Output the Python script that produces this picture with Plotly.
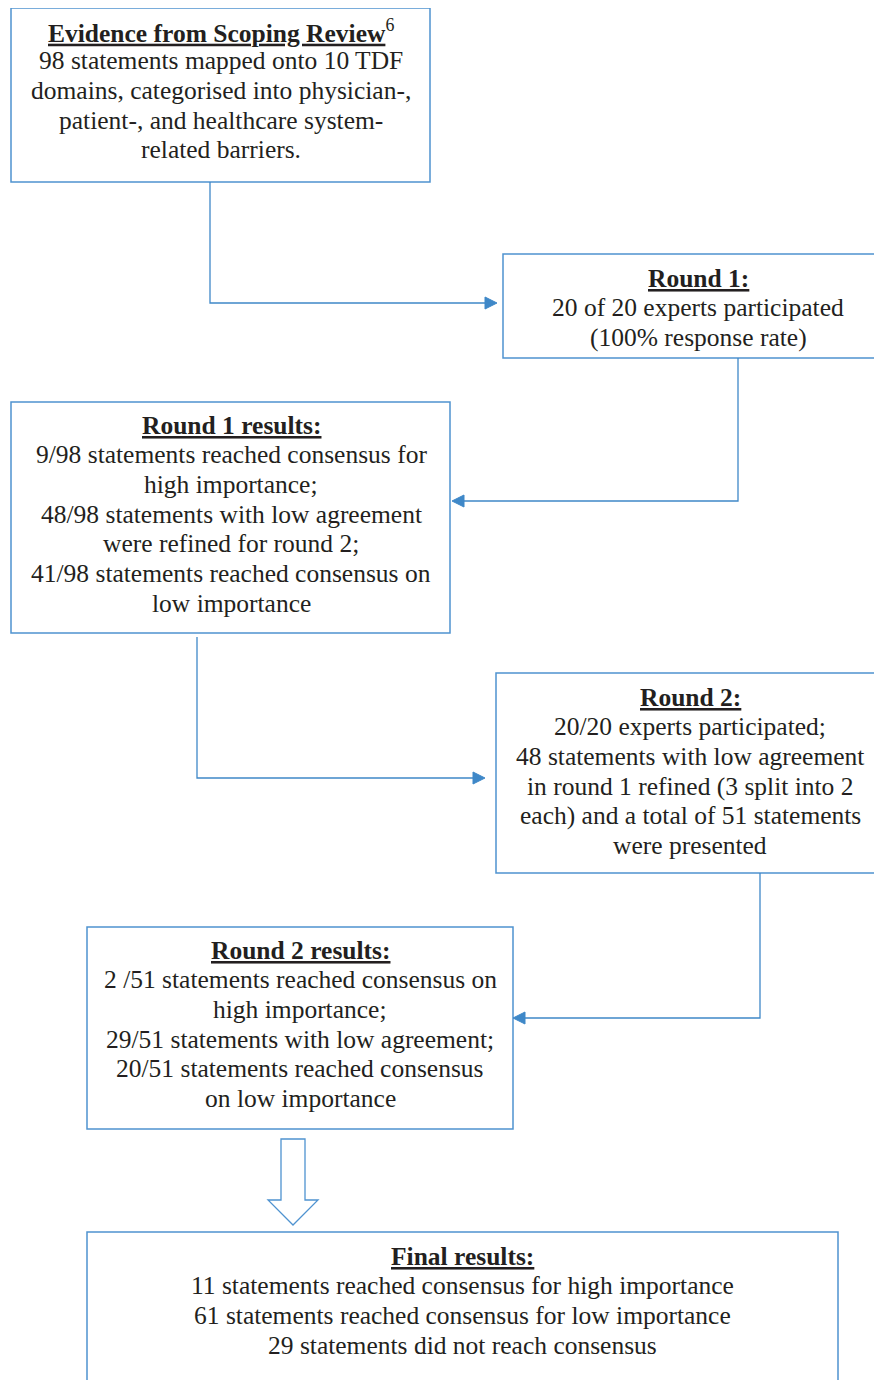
import plotly.graph_objects as go

# ---- content ----
box1_lines = ["<b><u>Evidence from Scoping Review</u></b><sup>6</sup>",
              "98 statements mapped onto 10 TDF",
              "domains, categorised into physician-,",
              "patient-, and healthcare system-",
              "related barriers."]
box2_lines = ["<b><u>Round 1:</u></b>",
              "20 of 20 experts participated",
              "(100% response rate)"]
box3_lines = ["<b><u>Round 1 results:</u></b>",
              "9/98 statements reached consensus for",
              "high importance;",
              "48/98 statements with low agreement",
              "were refined for round 2;",
              "41/98 statements reached consensus on",
              "low importance"]
box4_lines = ["<b><u>Round 2:</u></b>",
              "20/20 experts participated;",
              "48 statements with low agreement",
              "in round 1 refined (3 split into 2",
              "each) and a total of 51 statements",
              "were presented"]
box5_lines = ["<b><u>Round 2 results:</u></b>",
              "2 /51 statements reached consensus on",
              "high importance;",
              "29/51 statements with low agreement;",
              "20/51 statements reached consensus",
              "on low importance"]
box6_lines = ["<b><u>Final results:</u></b>",
              "11 statements reached consensus for high importance",
              "61 statements reached consensus for low importance",
              "29 statements did not reach consensus"]

OFF = 8  # page body margin
W, H = 882 - OFF, 1380 - OFF
BOX_COLOR = "#4f93d0"
LINE_COLOR = "#3f88c8"
TEXT_COLOR = "#231f20"
FONT = "Liberation Serif"
FS = 25.5

fig = go.Figure()
shapes = []
annotations = []

# boxes: (x0, y0, x1, y1, center x, first line y, lines)
boxes = [
    (11, 8, 430, 182, 221, 31, box1_lines),
    (503, 254, 890, 358, 698, 278, box2_lines),
    (11, 402, 450, 633, 231, 425, box3_lines),
    (496, 673, 890, 873, 690, 697, box4_lines),
    (87, 927, 513, 1129, 300, 950, box5_lines),
    (87, 1232, 838, 1400, 462, 1256, box6_lines),
]
LINE_H = 29.7
for x0, y0, x1, y1, cx, ty, lines in boxes:
    shapes.append(dict(type="rect", x0=x0, y0=y0, x1=x1, y1=y1, xref="x", yref="y",
                       line=dict(color=BOX_COLOR, width=1.5), fillcolor="rgba(0,0,0,0)"))
    for i, t in enumerate(lines):
        annotations.append(dict(x=cx, y=ty + i * LINE_H, xref="x", yref="y", text=t,
                                showarrow=False, xanchor="center", yanchor="middle",
                                font=dict(family=FONT, size=FS, color=TEXT_COLOR)))

# elbow connectors: list of points, arrow direction at end
connectors = [
    ([(210, 182), (210, 303), (497, 303)], "right"),
    ([(738, 358), (738, 501), (452, 501)], "left"),
    ([(197, 637), (197, 778), (485, 778)], "right"),
    ([(760, 873), (760, 1018), (513, 1018)], "left"),
]
AL, AW = 12, 6
for pts, d in connectors:
    path = "M " + " L ".join(f"{x},{y}" for x, y in pts[:-1])
    tx, ty = pts[-1]
    bx = tx - AL if d == "right" else tx + AL
    path += f" L {bx},{ty}"
    shapes.append(dict(type="path", path=path, xref="x", yref="y",
                       line=dict(color=LINE_COLOR, width=1.3)))
    shapes.append(dict(type="path", path=f"M {bx},{ty-AW} L {tx},{ty} L {bx},{ty+AW} Z",
                       xref="x", yref="y", fillcolor=LINE_COLOR, line=dict(color=LINE_COLOR, width=1)))

# block down arrow
shapes.append(dict(type="path",
                   path="M 281,1139 L 305,1139 L 305,1200 L 318,1200 L 293,1225 L 268,1200 L 281,1200 Z",
                   xref="x", yref="y", fillcolor="white", line=dict(color=BOX_COLOR, width=1.3)))

fig.update_layout(
    width=W, height=H, margin=dict(l=0, r=0, t=0, b=0),
    paper_bgcolor="white", plot_bgcolor="white",
    xaxis=dict(range=[OFF, 882], visible=False, fixedrange=True),
    yaxis=dict(range=[1380, OFF], visible=False, fixedrange=True),
    shapes=shapes, annotations=annotations, showlegend=False,
)
fig.write_html("out.html")
